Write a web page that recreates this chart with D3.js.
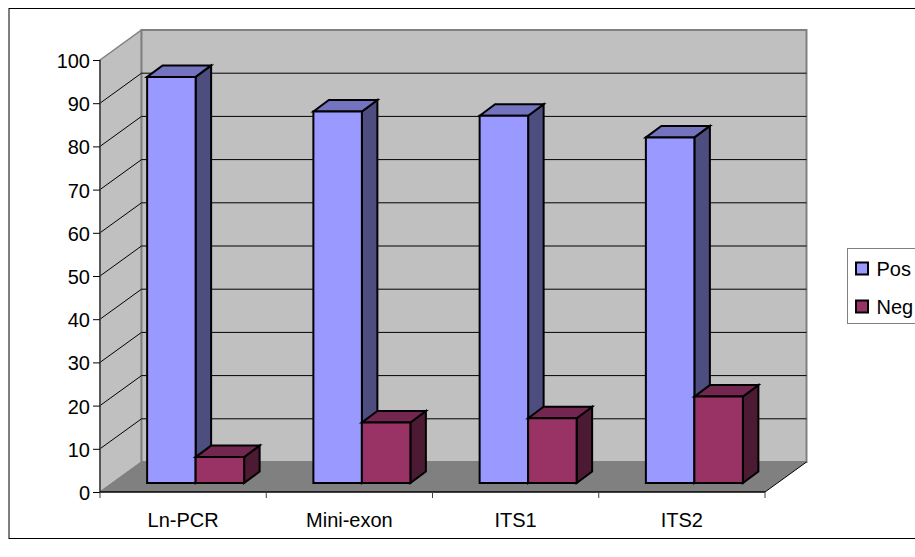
<!DOCTYPE html>
<html><head><meta charset="utf-8">
<script src="https://cdnjs.cloudflare.com/ajax/libs/d3/7.8.5/d3.min.js"></script>
<style>html,body{margin:0;padding:0;background:#fff;overflow:hidden}svg{display:block}text{font-family:"Liberation Sans",Arial,sans-serif;fill:#000}</style>
</head><body><svg id="c" width="915" height="557"></svg>
<script>
const categories = ["Ln-PCR", "Mini-exon", "ITS1", "ITS2"];
const posValues = [94, 86, 85, 80];
const negValues = [6, 14, 15, 20];
const yTicks = [0,10,20,30,40,50,60,70,80,90,100];
const seriesNames = ["Pos", "Neg"];

const svg = d3.select("#c");
svg.append("rect").attr("x",9).attr("y",8.5).attr("width",920).attr("height",530).attr("fill","#fff").attr("stroke","#000");

const x0=100,x1=765,yB=492,yT=60,dx=41.5,dy=-30;
const y=d3.scaleLinear().domain([0,100]).range([yB,yT]);
const x=d3.scaleBand().domain(categories).range([x0,x1]);
const inner=d3.scaleBand().domain(seriesNames).range([0,x.bandwidth()]).paddingInner(0).paddingOuter(0.714);
const gray="#c0c0c0", edge="#808080";
const poly=(pts,fill,stroke,sw)=>svg.append("polygon").attr("points",pts.map(p=>p.join(",")).join(" ")).attr("fill",fill).attr("stroke",stroke||"none").attr("stroke-width",sw||0);
poly([[x0,yT],[x0+dx,yT+dy],[x0+dx,yB+dy],[x0,yB]],gray,edge,1.5);
poly([[x0+dx,yT+dy],[x1+dx,yT+dy],[x1+dx,yB+dy],[x0+dx,yB+dy]],gray,edge,2);
poly([[x0,yB],[x0+dx,yB+dy],[x1+dx,yB+dy],[x1,yB]],edge,"none");
yTicks.slice(1,-1).forEach(t=>{
  svg.append("path").attr("d",`M${x0},${y(t)}L${x0+dx},${y(t)+dy}L${x1+dx},${y(t)+dy}`).attr("fill","none").attr("stroke","#000").attr("stroke-width",1);
});
svg.append("path").attr("d",`M${x0},${yB}L${x0+dx},${yB+dy}`).attr("stroke",edge);
svg.append("path").attr("d",`M${x1},${yB}L${x1+dx},${yB+dy}`).attr("stroke","#000");
const ax=svg.append("g").attr("transform",`translate(${x0},0)`).call(d3.axisLeft(y).tickValues(yTicks).tickSize(7).tickPadding(3));
ax.select(".domain").attr("stroke","#404040").attr("stroke-width",1.5).attr("d",`M0,${yT}V${yB}`);
ax.selectAll("text").attr("font-size",20).attr("y",1);
const bx=svg.append("g").attr("transform",`translate(0,${yB})`).call(d3.axisBottom(x).tickSize(0).tickPadding(21));
bx.select(".domain").attr("stroke","#000").attr("stroke-width",1.5).attr("d",`M${x0},0H${x1}`);
bx.selectAll("text").attr("font-size",20);
[0,1,2,3,4].forEach(i=>{svg.append("line").attr("x1",x0+i*x.step()).attr("x2",x0+i*x.step()).attr("y1",yB).attr("y2",yB+6).attr("stroke","#404040");});
const ox=12.5,oy=-9,bdx=15.5,bdy=-11.5;
const colors={Pos:["#9999ff","#7373bf","#4d4d80"],Neg:["#993366","#732650","#4d1a33"]};
function bar(cat,name,v){
  const l=x(cat)+inner(name)+ox, r=l+inner.bandwidth(), b=y(0)+oy, t=y(v)+oy, c=colors[name];
  poly([[r,t],[r+bdx,t+bdy],[r+bdx,b+bdy],[r,b]],c[2],"#000",2);
  poly([[l,t],[l+bdx,t+bdy],[r+bdx,t+bdy],[r,t]],c[1],"#000",2);
  poly([[l,t],[r,t],[r,b],[l,b]],c[0],"#000",2);
}
categories.forEach((cat,i)=>{bar(cat,"Pos",posValues[i]);bar(cat,"Neg",negValues[i]);});
svg.append("rect").attr("x",847.5).attr("y",248.5).attr("width",80).attr("height",75).attr("fill","#fff").attr("stroke","#808080");
seriesNames.forEach((n,i)=>{
  const ly=268.5+i*38;
  svg.append("rect").attr("x",856).attr("y",ly-6).attr("width",12).attr("height",12).attr("fill",colors[n][0]).attr("stroke","#000").attr("stroke-width",2);
  svg.append("text").attr("x",876.5).attr("y",ly+7).attr("font-size",20).text(n);
});
</script></body></html>
